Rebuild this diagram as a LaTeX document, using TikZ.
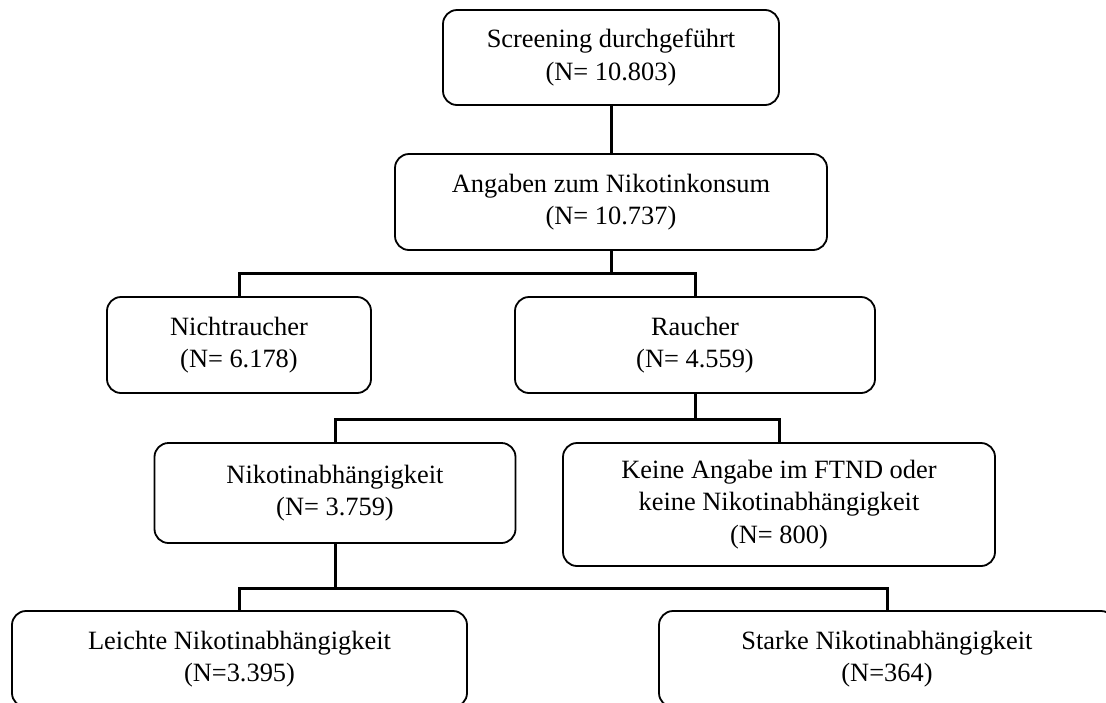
\documentclass[tikz,border=0pt]{standalone}
\usepackage{fontspec}
\setmainfont{Liberation Serif}
\usepackage{tikz}

\begin{document}
\begin{tikzpicture}[x=1pt, y=-1pt]
\tikzset{kasten/.style={draw, rectangle, rounded corners=14pt, line width=1.8pt, align=center, inner sep=0pt, font=\fontsize{26.4}{32.5}\selectfont}}
\tikzset{linie/.style={line width=3pt}}
\useasboundingbox (0, 0) rectangle (1106, 702);
\clip (0, 0) rectangle (1106, 702);
\node[kasten, minimum width=336pt, minimum height=95pt] (screen) at (611, 57.5) {Screening durchgeführt\\(N= 10.803)};
\node[kasten, minimum width=432pt, minimum height=96pt] (angaben) at (611, 202) {Angaben zum Nikotinkonsum\\(N= 10.737)};
\node[kasten, minimum width=264pt, minimum height=96pt] (nicht) at (239, 345) {Nichtraucher\\(N= 6.178)};
\node[kasten, minimum width=360pt, minimum height=96pt] (raucher) at (695, 345) {Raucher\\(N= 4.559)};
\node[kasten, minimum width=361pt, minimum height=100pt] (abh) at (335, 493) {Nikotinabhängigkeit\\(N= 3.759)};
\node[kasten, minimum width=432pt, minimum height=123pt] (keine) at (779, 504.5) {Keine Angabe im FTND oder\\keine Nikotinabhängigkeit\\(N= 800)};
\node[kasten, minimum width=455pt, minimum height=96pt] (leicht) at (239.5, 659) {Leichte Nikotinabhängigkeit\\(N=3.395)};
\node[kasten, minimum width=456pt, minimum height=96pt] (stark) at (887, 659) {Starke Nikotinabhängigkeit\\(N=364)};
\coordinate (k1) at (611, 273);
\coordinate (k2) at (695, 419);
\coordinate (k3) at (335, 588);
\draw[linie] (screen) -- (angaben);
\draw[linie] (angaben) -- (k1);
\draw[linie] (k1) -| (nicht);
\draw[linie] (k1) -| (raucher);
\draw[linie] (raucher) -- (k2);
\draw[linie] (k2) -| (abh);
\draw[linie] (k2) -| (keine);
\draw[linie] (abh) -- (k3);
\draw[linie] (k3) -| (leicht);
\draw[linie] (k3) -| (stark);
\end{tikzpicture}
\end{document}
